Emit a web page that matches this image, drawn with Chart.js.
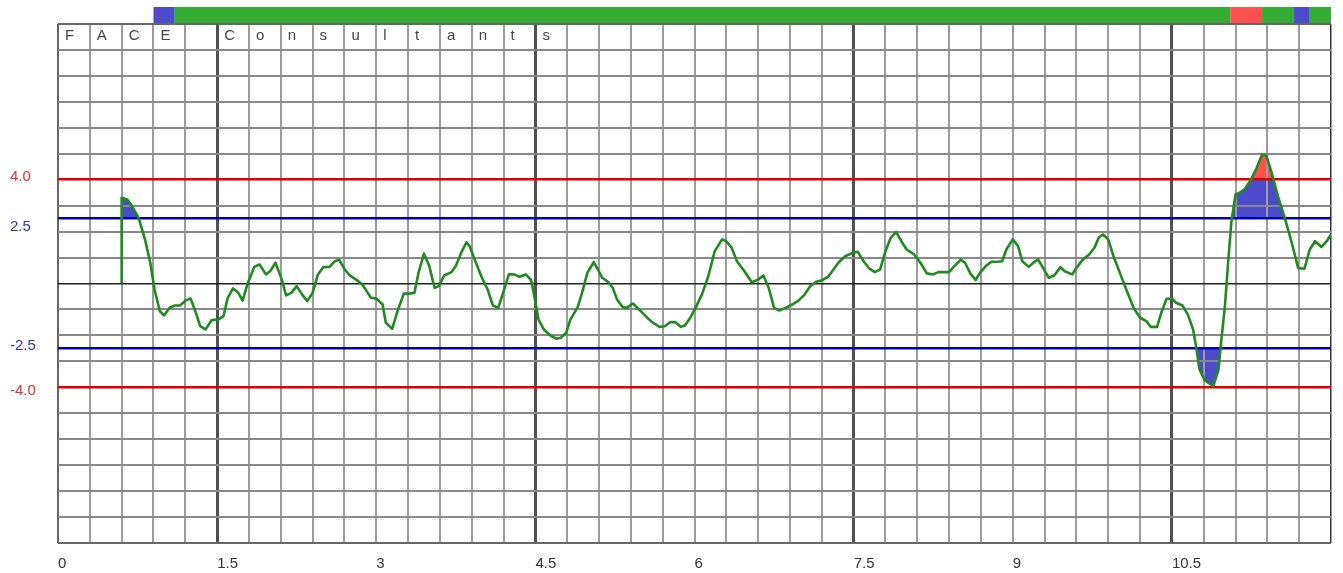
<!DOCTYPE html>
<html>
<head>
<meta charset="utf-8">
<title>FACE Consultants</title>
<script src="https://cdn.jsdelivr.net/npm/chart.js@4.4.1/dist/chart.umd.min.js"></script>
<style>
  html, body { margin: 0; padding: 0; background: #fff; }
  #chart { display: block; }
</style>
</head>
<body>
<canvas id="chart" width="1343" height="573"></canvas>
<script>
var trace_x = [
  0.60, 0.60, 0.65, 0.69, 0.76, 0.82, 0.87, 0.91, 0.96, 1.00, 1.05, 1.10, 1.15, 1.21, 1.25, 1.30,
  1.34, 1.39, 1.45, 1.51, 1.56, 1.60, 1.65, 1.70, 1.74, 1.79, 1.85, 1.90, 1.96, 2.00, 2.05, 2.11,
  2.15, 2.20, 2.25, 2.30, 2.35, 2.40, 2.45, 2.50, 2.56, 2.61, 2.65, 2.70, 2.75, 2.81, 2.87, 2.92,
  2.95, 3.00, 3.06, 3.09, 3.15, 3.20, 3.26, 3.31, 3.36, 3.40, 3.45, 3.50, 3.55, 3.59, 3.64, 3.71,
  3.75, 3.80, 3.85, 3.88, 3.94, 3.99, 4.05, 4.10, 4.15, 4.20, 4.25, 4.30, 4.35, 4.41, 4.46, 4.49,
  4.53, 4.58, 4.65, 4.70, 4.74, 4.79, 4.83, 4.90, 4.94, 4.99, 5.05, 5.09, 5.13, 5.19, 5.23, 5.27,
  5.32, 5.36, 5.42, 5.47, 5.54, 5.60, 5.67, 5.72, 5.77, 5.82, 5.87, 5.91, 5.96, 6.01, 6.07, 6.13,
  6.19, 6.26, 6.30, 6.35, 6.40, 6.47, 6.54, 6.60, 6.65, 6.70, 6.75, 6.80, 6.86, 6.92, 6.98, 7.04,
  7.09, 7.15, 7.20, 7.26, 7.31, 7.36, 7.42, 7.49, 7.54, 7.60, 7.65, 7.70, 7.75, 7.80, 7.85, 7.90,
  7.95, 8.00, 8.07, 8.13, 8.19, 8.25, 8.30, 8.40, 8.45, 8.51, 8.55, 8.60, 8.65, 8.69, 8.75, 8.80,
  8.85, 8.90, 8.94, 9.00, 9.05, 9.09, 9.15, 9.20, 9.24, 9.29, 9.34, 9.39, 9.45, 9.49, 9.56, 9.60,
  9.66, 9.72, 9.77, 9.81, 9.85, 9.90, 9.95, 10.01, 10.07, 10.14, 10.20, 10.26, 10.30, 10.36, 10.40, 10.45,
  10.50, 10.54, 10.60, 10.65, 10.70, 10.73, 10.76, 10.81, 10.89, 10.94, 10.96, 11.00, 11.03, 11.06, 11.10, 11.14,
  11.19, 11.25, 11.30, 11.35, 11.39, 11.44, 11.50, 11.56, 11.63, 11.69, 11.75, 11.80, 11.85, 11.91, 11.96, 12.00
];
var trace_y = [
  0.00, 3.30, 3.24, 3.04, 2.53, 1.70, 0.80, -0.23, -1.07, -1.23, -0.94, -0.85, -0.85, -0.64, -0.58, -1.13,
  -1.64, -1.77, -1.41, -1.39, -1.26, -0.55, -0.19, -0.36, -0.66, 0.03, 0.64, 0.73, 0.35, 0.47, 0.80, 0.15,
  -0.46, -0.36, -0.10, -0.42, -0.68, -0.36, 0.35, 0.63, 0.64, 0.86, 0.92, 0.56, 0.31, 0.15, -0.04, -0.36,
  -0.55, -0.58, -0.81, -1.51, -1.75, -1.07, -0.39, -0.39, -0.36, 0.44, 1.15, 0.67, -0.17, -0.10, 0.31, 0.44,
  0.67, 1.18, 1.59, 1.44, 0.80, 0.28, -0.23, -0.85, -0.94, -0.30, 0.35, 0.35, 0.26, 0.35, 0.13, -0.49,
  -1.39, -1.77, -2.03, -2.13, -2.09, -1.90, -1.39, -0.90, -0.36, 0.41, 0.82, 0.54, 0.22, 0.05, -0.17, -0.62,
  -0.90, -0.94, -0.77, -0.97, -1.26, -1.49, -1.67, -1.65, -1.49, -1.49, -1.67, -1.62, -1.32, -0.94, -0.42, 0.28,
  1.24, 1.70, 1.63, 1.38, 0.86, 0.47, 0.05, 0.15, 0.31, -0.17, -0.94, -1.04, -0.94, -0.81, -0.66, -0.42,
  -0.10, 0.07, 0.12, 0.26, 0.54, 0.82, 1.05, 1.18, 1.22, 0.82, 0.57, 0.44, 0.54, 1.24, 1.76, 1.99,
  1.63, 1.31, 1.12, 0.80, 0.39, 0.35, 0.44, 0.44, 0.67, 0.92, 0.80, 0.39, 0.13, 0.41, 0.69, 0.84,
  0.84, 0.86, 1.31, 1.70, 1.44, 0.86, 0.64, 0.82, 0.92, 0.57, 0.22, 0.31, 0.63, 0.47, 0.35, 0.60,
  0.92, 1.12, 1.38, 1.76, 1.89, 1.70, 1.05, 0.41, -0.23, -0.94, -1.32, -1.45, -1.67, -1.67, -1.13, -0.59,
  -0.59, -0.74, -0.85, -1.19, -1.77, -2.48, -3.31, -3.73, -3.96, -3.31, -2.42, -0.87, 0.80, 2.34, 3.43, 3.50,
  3.65, 4.03, 4.46, 4.97, 4.93, 4.27, 3.36, 2.59, 1.57, 0.60, 0.57, 1.31, 1.63, 1.41, 1.63, 1.89
];

// status band across the top
var band_start = [0.9, 1.1, 11.05, 11.35, 11.65, 11.8];
var band_end = [1.1, 11.05, 11.35, 11.65, 11.8, 12];
var band_state = ['low', 'ok', 'high', 'ok', 'low', 'ok'];

var x_labels = ['0', '1.5', '3', '4.5', '6', '7.5', '9', '10.5'];
var y_marks = [4, 2.5, -2.5, -4];
var y_mark_labels = ['4.0', '2.5', '-2.5', '-4.0'];
var title_text = 'FACE Consultants';

var warn_level = 2.5;
var alarm_level = 4;
var cell = 0.3;        // one small grid square
var x_max = 12;
var y_max = 10;

var state_colors = { ok: '#35ad35', low: '#4b4bcc', high: '#ff5050' };
var font_family = 'Arial, "Liberation Sans", sans-serif';

var points = trace_x.map(function(x, i){ return { x: x, y: trace_y[i] }; });

function fillSet(level, above, below){
  return {
    data: points,
    borderWidth: 0,
    borderColor: 'transparent',
    pointRadius: 0,
    tension: 0,
    fill: { target: { value: level }, above: above, below: below }
  };
}

var decor = {
  id: 'decor',
  afterDraw: function(chart){
    var ctx = chart.ctx, xs = chart.scales.x, ys = chart.scales.y, area = chart.chartArea;
    ctx.save();
    for (var i = 0; i < band_start.length; i++) {
      var l = xs.getPixelForValue(band_start[i]);
      var r = xs.getPixelForValue(band_end[i]);
      ctx.fillStyle = state_colors[band_state[i]];
      ctx.fillRect(l, area.top - 17, r - l, 16);
    }
    ctx.font = '15px ' + font_family;
    ctx.textBaseline = 'middle';

    // one letter per grid square in the top row
    ctx.fillStyle = '#444';
    title_text.split('').forEach(function(ch, i){
      ctx.fillText(ch, xs.getPixelForValue(i * cell) + 7, area.top + 12);
    });

    // level labels sit just off their lines: 4.0 and -2.5 above, 2.5 and -4.0 below
    y_marks.forEach(function(v, i){
      var y = ys.getPixelForValue(v);
      ctx.fillStyle = Math.abs(v) === alarm_level ? '#e03030' : '#3030c0';
      if (v === alarm_level || v === -warn_level) y -= 3;
      else if (v === warn_level) y += 8;
      else y += 4;
      ctx.fillText(y_mark_labels[i], 10, y);
    });
    ctx.restore();
  }
};

new Chart(document.getElementById('chart'), {
  type: 'line',
  data: {
    datasets: [
      {
        data: points,
        borderColor: '#1f8a1f',
        borderWidth: 2.6,
        borderJoinStyle: 'round',
        pointRadius: 0,
        tension: 0,
        fill: false
      },
      fillSet(alarm_level, state_colors.high, 'transparent'),
      fillSet(-alarm_level, 'transparent', state_colors.high),
      fillSet(warn_level, state_colors.low, 'transparent'),
      fillSet(-warn_level, 'transparent', state_colors.low)
    ]
  },
  options: {
    responsive: false,
    animation: false,
    events: [],
    layout: { autoPadding: false, padding: { left: 10, right: 10, top: 24, bottom: 0 } },
    plugins: {
      legend: { display: false },
      tooltip: { enabled: false },
      filler: { drawTime: 'beforeDraw' }
    },
    scales: {
      x: {
        type: 'linear',
        min: 0,
        max: x_max,
        afterBuildTicks: function(scale){
          var ticks = [];
          for (var i = 0; i <= Math.round(x_max / cell); i++) ticks.push({ value: Math.round(i * cell * 10) / 10 });
          scale.ticks = ticks;
        },
        afterFit: function(scale){ scale.height = 30; },
        border: { display: false },
        grid: {
          drawTicks: false,
          color: function(c){
            if (c.index % 10 === 5) return '#505050';
            if (c.index === 0) return '#666';
            if (c.tick && c.tick.value === x_max) return '#333';
            return '#9c9c9c';
          },
          lineWidth: function(c){
            if (c.index % 10 === 5) return 3;
            if (c.tick && c.tick.value === x_max) return 1.5;
            return 2;
          }
        },
        ticks: {
          autoSkip: false,
          maxRotation: 0,
          align: 'start',
          padding: 12,
          color: '#333',
          font: { family: font_family, size: 15 },
          callback: function(value, index){
            return index % 5 === 0 ? (x_labels[index / 5] || '') : '';
          }
        }
      },
      y: {
        min: -y_max,
        max: y_max,
        afterBuildTicks: function(scale){
          var vals = [];
          for (var v = -y_max; v <= y_max; v++) vals.push(v);
          vals.push(warn_level, -warn_level);
          vals.sort(function(a, b){ return a - b; });
          scale.ticks = vals.map(function(v){ return { value: v }; });
        },
        afterFit: function(scale){ scale.width = 48; },
        border: { display: false },
        grid: {
          drawTicks: false,
          color: function(c){
            var v = c.tick.value;
            if (v === 0) return '#222';
            if (Math.abs(v) === alarm_level) return '#dd0000';
            if (Math.abs(v) === warn_level) return '#0000bb';
            if (Math.abs(v) === y_max) return '#666';
            return '#888';
          },
          lineWidth: function(c){
            var v = c.tick.value;
            if (v === 0) return 1.5;
            if (Math.abs(v) === alarm_level || Math.abs(v) === warn_level) return 2.5;
            return 2;
          }
        },
        ticks: { display: false, autoSkip: false }
      }
    }
  },
  plugins: [decor]
});
</script>
</body>
</html>
